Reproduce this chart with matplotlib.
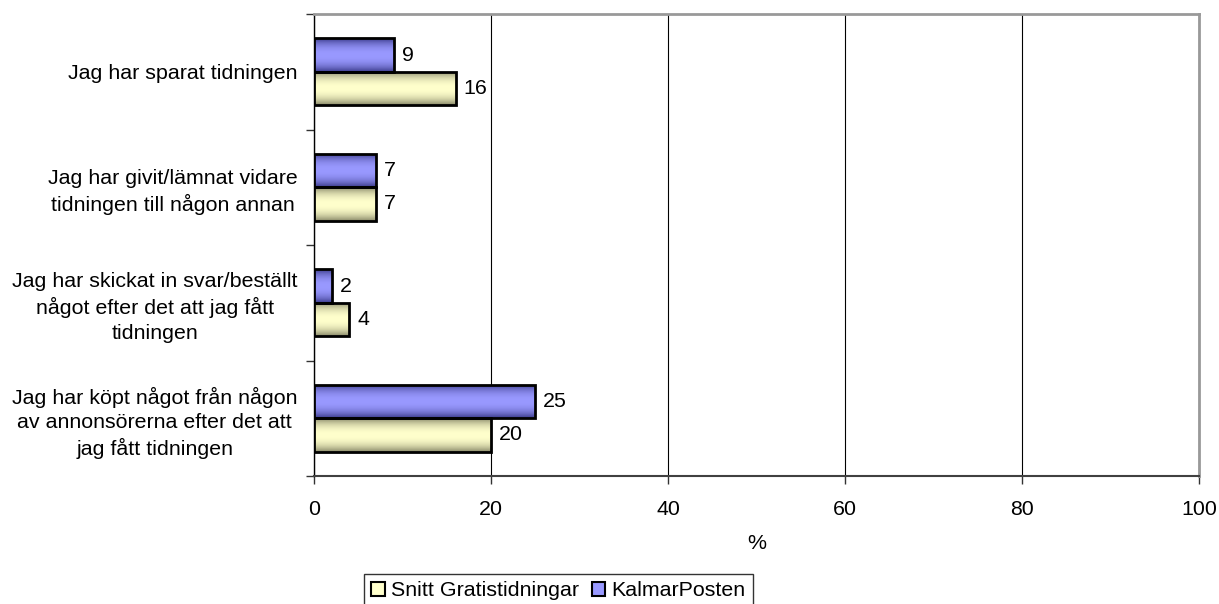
import matplotlib
matplotlib.use('Agg')
import matplotlib.pyplot as plt
from matplotlib.patches import Patch
from matplotlib.colors import to_rgb
import numpy as np

plt.rcParams['font.family'] = ['Liberation Sans', 'DejaVu Sans']
plt.rcParams['font.size'] = 15.4

categories = ['Jag har sparat tidningen',
              'Jag har givit/lämnat vidare\ntidningen till någon annan',
              'Jag har skickat in svar/beställt\nnågot efter det att jag fått\ntidningen',
              'Jag har köpt något från någon\nav annonsörerna efter det att\njag fått tidningen']
kalmarposten = [9, 7, 2, 25]
snitt_gratis = [16, 7, 4, 20]
series_names = ['Snitt Gratistidningar', 'KalmarPosten']

purple = '#9999ff'
yellow = '#ffffcc'
purple_edge = '#3c3c8c'
yellow_edge = '#8a8a6a'


def shaded_bar(ax, y, val, h, face, edge):
    # bar with darker top/bottom edges, like a cylinder seen from the side
    bar = ax.barh(y, val, height=h, color='none', edgecolor='black', linewidth=2, zorder=4)[0]
    t = np.linspace(0, 1, 64)
    w = np.abs(2 * t - 1) ** 2.2
    c0 = np.array(to_rgb(face))
    c1 = np.array(to_rgb(edge))
    img = (c0[None, :] * (1 - w[:, None]) + c1[None, :] * w[:, None])[:, None, :]
    im = ax.imshow(img, extent=(0, val, y + h / 2, y - h / 2), aspect='auto',
                   zorder=3, interpolation='bilinear')
    im.set_clip_path(bar)
    return bar


fig = plt.figure(figsize=(12.19, 6.04), dpi=100)
ax = fig.add_axes([314 / 1219, 1 - 476 / 604, 885 / 1219, 462 / 604])

ypos = np.arange(len(categories))
h = 0.29
for i in range(len(categories)):
    shaded_bar(ax, ypos[i] - h / 2, kalmarposten[i], h, purple, purple_edge)
    shaded_bar(ax, ypos[i] + h / 2, snitt_gratis[i], h, yellow, yellow_edge)
    ax.text(kalmarposten[i] + 0.9, ypos[i] - h / 2, str(kalmarposten[i]),
            va='center', ha='left', zorder=5)
    ax.text(snitt_gratis[i] + 0.9, ypos[i] + h / 2, str(snitt_gratis[i]),
            va='center', ha='left', zorder=5)

ax.set_xlim(0, 100)
ax.set_ylim(3.5, -0.5)
ax.set_xticks([0, 20, 40, 60, 80, 100])
ax.xaxis.grid(True, color='black', linewidth=0.8)
ax.set_axisbelow(True)
ax.tick_params(axis='x', length=6, width=1, pad=11, color='#333333')

ax.set_yticks(ypos)
ax.set_yticklabels(categories)
ax.set_yticks(np.arange(-0.5, 4, 1), minor=True)
ax.tick_params(axis='y', which='major', length=0, pad=12)
ax.tick_params(axis='y', which='minor', length=6, width=1, color='#333333')
for lbl in ax.get_yticklabels():
    lbl.set_multialignment('center')
    lbl.set_linespacing(1.35)

ax.spines['left'].set_color('black')
ax.spines['left'].set_linewidth(1)
ax.spines['bottom'].set_color('#404040')
ax.spines['bottom'].set_linewidth(1.5)
ax.spines['top'].set_color('#999999')
ax.spines['top'].set_linewidth(2)
ax.spines['right'].set_color('#999999')
ax.spines['right'].set_linewidth(2)

ax.set_xlabel('%', labelpad=11)

handles = [Patch(facecolor=yellow, edgecolor='black', linewidth=1.5),
           Patch(facecolor=purple, edgecolor='black', linewidth=1.5)]
leg = fig.legend(handles, series_names, loc='upper left',
                 bbox_to_anchor=(364 / 1219, 1 - 574 / 604), ncol=2,
                 frameon=True, fancybox=False, shadow=False,
                 handlelength=0.62, handleheight=0.7, handletextpad=0.3,
                 columnspacing=0.6, borderpad=0.35, borderaxespad=0)
leg.get_frame().set_edgecolor('black')
leg.get_frame().set_linewidth(1)

plt.savefig('out.png', dpi=100)
